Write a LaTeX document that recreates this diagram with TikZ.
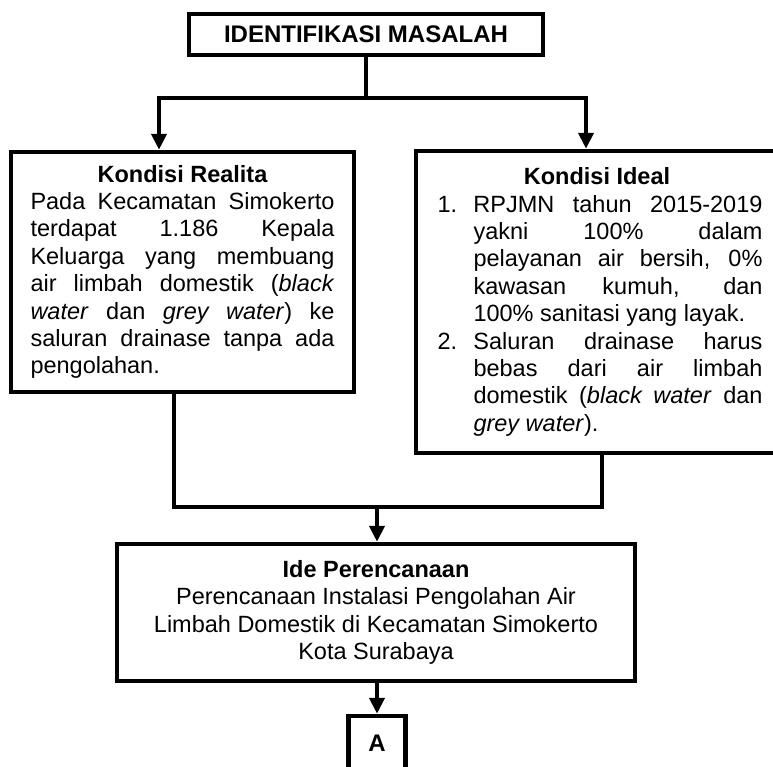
\documentclass[tikz,border=0pt]{standalone}
\usepackage{fontspec}
\setmainfont{Liberation Sans}
\usetikzlibrary{arrows.meta}
\tolerance=10000
\hbadness=10000
\begin{document}
\begin{tikzpicture}[x=1pt,y=-1pt,
  box/.style={draw, line width=4.5pt, inner sep=0pt, line join=miter},
  conn/.style={line width=4.5pt, line join=miter},
  arr/.style={-{Triangle[width=15pt,length=16pt]}},
  bodyfont/.style={font=\fontsize{23.5}{27.4}\selectfont}]
\useasboundingbox (0,0) rectangle (773,766);
\fill[white] (0,0) rectangle (773,766);

\node[box, minimum width=354pt, minimum height=41pt,
      font=\bfseries\fontsize{24}{28}\selectfont] (top) at (366,34.5) {IDENTIFIKASI MASALAH};

\node[box, minimum width=343pt, minimum height=240pt] (left) at (182.5,272) {%
\begin{minipage}{304pt}\fontsize{23.5}{27.4}\selectfont\setlength\parindent{0pt}%
{\centering\bfseries Kondisi Realita\par}
Pada Kecamatan Simokerto\linebreak terdapat 1.186 Kepala\linebreak Keluarga yang membuang\linebreak air limbah domestik (\textit{black}\linebreak \textit{water} dan \textit{grey water}) ke\linebreak saluran drainase tanpa ada\linebreak pengolahan.\par
\end{minipage}};

\node[box, minimum width=362pt, minimum height=302pt] (right) at (597,302) {%
\begin{minipage}{331pt}\fontsize{23.5}{27.4}\selectfont\setlength\parindent{0pt}%
{\centering\bfseries Kondisi Ideal\par}
\hangindent=42pt\hangafter=1 \makebox[42pt][l]{\hspace*{6pt}1.}RPJMN tahun 2015-2019\linebreak yakni 100\% dalam\linebreak pelayanan air bersih, 0\%\linebreak kawasan kumuh, dan\linebreak 100\% sanitasi yang layak.\par
\hangindent=42pt\hangafter=1 \makebox[42pt][l]{\hspace*{6pt}2.}Saluran drainase harus\linebreak bebas dari air limbah\linebreak domestik (\textit{black water} dan\linebreak \textit{grey water}).\par
\end{minipage}};

\node[box, bodyfont, align=center, minimum width=518pt, minimum height=137pt] (ide) at (376,612.5)
  {\textbf{Ide Perencanaan}\\Perencanaan Instalasi Pengolahan Air\\Limbah Domestik di Kecamatan Simokerto\\Kota Surabaya};

\node[box, minimum width=57pt, minimum height=54pt,
      font=\bfseries\fontsize{24}{28}\selectfont] (A) at (377,743) {A};

\coordinate (bL) at (159,98);
\coordinate (bR) at (586,98);
\draw[conn] (top.south) -- (top.south |- bL);
\draw[conn,arr] (bR) -- (bL) -- (bL |- left.north);
\draw[conn,arr] (bL) -- (bR) -- (bR |- right.north);

\coordinate (cL) at (174,507);
\coordinate (cR) at (602,507);
\draw[conn] (left.south -| cL) -- (cL) -- (cR) -- (right.south -| cR);
\draw[conn,arr] (cL -| A.north) -- (A.north |- ide.north);
\draw[conn,arr] (A.north |- ide.south) -- (A.north);
\end{tikzpicture}
\end{document}
